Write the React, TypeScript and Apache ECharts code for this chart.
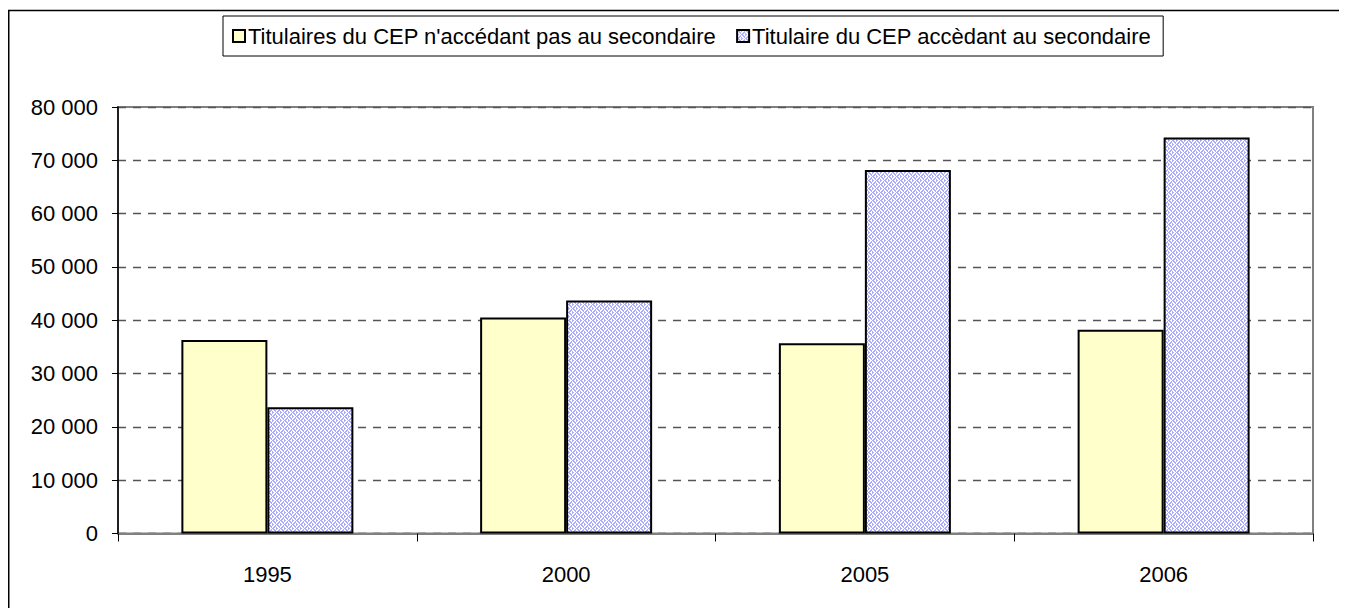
import React, { useEffect, useRef } from "react";
import * as echarts from "echarts";

const categories = ["1995", "2000", "2005", "2006"];
const seriesNames = [
  "Titulaires du CEP n'accédant pas au secondaire",
  "Titulaire du CEP accèdant au secondaire",
];
const nonAccessValues = [36300, 40500, 35700, 38200];
const accessValues = [23700, 43700, 68200, 74300];
const yMin = 0;
const yMax = 80000;
const yInterval = 10000;

const FONT = "'Liberation Sans', Arial, sans-serif";

function makeWeave(): string {
  const size = 8;
  const c = document.createElement("canvas");
  c.width = size;
  c.height = size;
  const ctx = c.getContext("2d")!;
  ctx.fillStyle = "#ffffff";
  ctx.fillRect(0, 0, size, size);
  ctx.fillStyle = "#aaaaff";
  for (let y = 0; y < size; y++) {
    for (let x = 0; x < size; x++) {
      const qx = Math.floor(x / 4);
      const qy = Math.floor(y / 4);
      const back = (qx + qy) % 2 === 0;
      const m = back ? ((x - y) % 4 + 4) % 4 : (x + y) % 4;
      if (m === 0 || m === 1) ctx.fillRect(x, y, 1, 1);
    }
  }
  return c.toDataURL();
}

function fmt(v: number): string {
  if (v === 0) return "0";
  const s = String(v);
  return s.replace(/\B(?=(\d{3})+(?!\d))/g, " ");
}

export default function App() {
  const ref = useRef<HTMLDivElement>(null);
  useEffect(() => {
    if (!ref.current) return;
    const chart = echarts.init(ref.current, undefined, { renderer: "svg" });
    const pattern = { image: makeWeave(), repeat: "repeat" } as any;
    chart.setOption({
      animation: false,
      backgroundColor: "#ffffff",
      textStyle: { fontFamily: FONT, color: "#000" },
      graphic: [
        {
          type: "rect",
          shape: { x: 0.75, y: 2.5, width: 1400, height: 700 },
          style: { fill: "none", stroke: "#000", lineWidth: 1.5 },
          silent: true,
          z: 100,
        },
      ],
      legend: {
        left: 215,
        top: 8,
        padding: [9, 12, 9, 9],
        itemWidth: 12,
        itemHeight: 12,
        itemGap: 20,
        borderColor: "#000",
        borderWidth: 1,
        icon: "rect",
        itemStyle: { borderColor: "#000", borderWidth: 2 },
        textStyle: { fontFamily: FONT, fontSize: 22, color: "#000", padding: [0, 0, 0, -2] },
        data: seriesNames,
      },
      grid: {
        left: 110,
        top: 99,
        right: 34,
        bottom: 74.5,
        show: true,
        borderColor: "#808080",
        borderWidth: 2,
        containLabel: false,
      },
      xAxis: {
        type: "category",
        data: categories,
        axisLine: { lineStyle: { color: "#808080", width: 2 } },
        axisTick: { show: true, length: 8, lineStyle: { color: "#000", width: 1 } },
        axisLabel: { fontFamily: FONT, fontSize: 22, color: "#000", margin: 30 },
        splitLine: { show: false },
      },
      yAxis: {
        type: "value",
        min: yMin,
        max: yMax,
        interval: yInterval,
        axisLine: { show: true, lineStyle: { color: "#000", width: 1.5 } },
        axisTick: { show: true, length: 6, lineStyle: { color: "#000", width: 1 } },
        axisLabel: { fontFamily: FONT, fontSize: 22, color: "#000", margin: 20, formatter: (v: number) => fmt(v) },
        splitLine: { show: true, lineStyle: { color: "#555", width: 1.3, type: [8, 7] } },
      },
      series: [
        {
          name: seriesNames[0],
          type: "bar",
          data: nonAccessValues,
          barWidth: 86,
          barGap: "0%",
          itemStyle: { color: "#ffffcc", borderColor: "#000", borderWidth: 2 },
        },
        {
          name: seriesNames[1],
          type: "bar",
          data: accessValues,
          barWidth: 86,
          barGap: "0%",
          itemStyle: { color: pattern, borderColor: "#000", borderWidth: 2 },
        },
      ],
    });
    return () => chart.dispose();
  }, []);
  return <div ref={ref} style={{ width: 1339, height: 600 }} />;
}
